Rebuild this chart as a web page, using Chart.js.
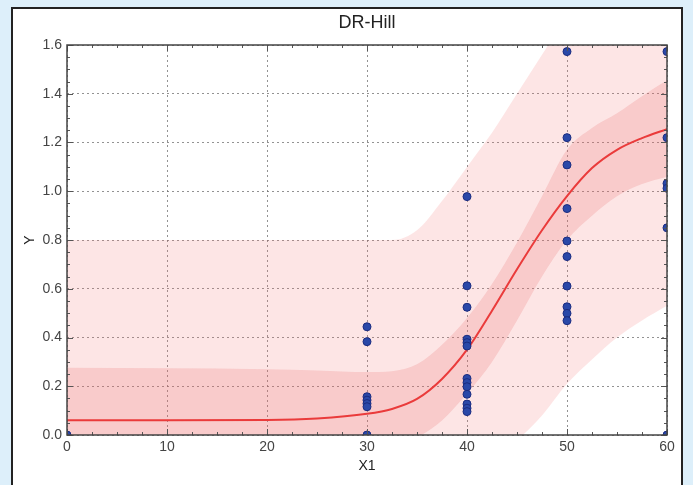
<!DOCTYPE html>
<html>
<head>
<meta charset="utf-8">
<script src="https://cdn.jsdelivr.net/npm/chart.js@4.4.1/dist/chart.umd.min.js"></script>
<style>
  html, body { margin:0; padding:0; background:#ddeffa; width:693px; height:485px; overflow:hidden; }
  #panel { position:absolute; left:11px; top:7px; width:672px; height:500px; background:#fff; border:2px solid #222; box-sizing:border-box; }
  #wrap { position:absolute; left:0; top:0; width:693px; height:485px; }
</style>
</head>
<body>
<div id="panel"></div>
<div id="wrap"><canvas id="c" width="693" height="485"></canvas></div>
<script>
// ---- data ----
const titleText = 'DR-Hill';
const xTitle = 'X1';
const yTitle = 'Y';

// observed points
const ptX = [0,
  30,30,30,30,30,30,30,
  40,40,40,40,40,40,40,40,40,40,40,40,40,
  50,50,50,50,50,50,50,50,50,50,
  60,60,60,60,60,60];
const ptY = [0.0,
  0.444,0.383,0.157,0.143,0.129,0.116,0.0,
  0.978,0.612,0.524,0.393,0.379,0.365,0.232,0.215,0.198,0.167,0.127,0.110,0.096,
  1.573,1.220,1.108,0.929,0.796,0.732,0.611,0.526,0.499,0.469,
  1.573,1.220,1.032,1.012,0.850,0.0];

// fitted curve and bands sampled along X1
const bandX      = [0,10,20,25,30,32.5,35,37.5,40,42.5,45,47.5,50,52.5,55,57.5,60];
const fitY       = [0.061,0.061,0.062,0.068,0.087,0.107,0.148,0.23,0.35,0.51,0.68,0.84,0.98,1.095,1.17,1.218,1.255];
const innerUpper = [0.276,0.274,0.270,0.265,0.258,0.262,0.29,0.37,0.48,0.62,0.79,0.98,1.17,1.26,1.32,1.39,1.455];
const innerLower = [-0.15,-0.15,-0.15,-0.13,-0.09,-0.05,-0.01,0.06,0.17,0.30,0.47,0.65,0.80,0.90,0.98,1.03,1.06];
const outerUpper = [0.80,0.80,0.80,0.80,0.80,0.80,0.84,0.96,1.10,1.24,1.40,1.56,1.72,1.86,1.98,2.08,2.15];
const outerLower = [-0.68,-0.68,-0.68,-0.66,-0.62,-0.55,-0.45,-0.33,-0.20,-0.08,-0.02,0.08,0.21,0.31,0.40,0.47,0.53];

const xTicks = [0,10,20,30,40,50,60];
const yTicks = [0.0,0.2,0.4,0.6,0.8,1.0,1.2,1.4,1.6];

const pairs = (xs, ys) => xs.map((x,i) => ({x, y: ys[i]}));

Chart.defaults.font.family = 'Arial, "Liberation Sans", Helvetica, sans-serif';

const frame = {
  id: 'frame',
  afterDatasetsDraw(chart) {
    const {ctx, chartArea: a, scales: {x, y}} = chart;
    ctx.save();
    ctx.strokeStyle = '#555';
    ctx.lineWidth = 1;
    ctx.beginPath();
    for (let i = 0; i <= 24; i++) {
      const v = i * 2.5;
      const px = Math.round(x.getPixelForValue(v)) + 0.5;
      const L = (i % 4 === 0) ? 6 : 3;
      ctx.moveTo(px, a.bottom); ctx.lineTo(px, a.bottom - L);
      ctx.moveTo(px, a.top); ctx.lineTo(px, a.top + L);
    }
    for (let i = 0; i <= 32; i++) {
      const v = i * 0.05;
      const py = Math.round(y.getPixelForValue(v)) + 0.5;
      const L = (i % 4 === 0) ? 6 : 3;
      ctx.moveTo(a.left, py); ctx.lineTo(a.left + L, py);
      ctx.moveTo(a.right, py); ctx.lineTo(a.right - L, py);
    }
    ctx.stroke();
    ctx.strokeStyle = '#444';
    ctx.lineWidth = 1.5;
    ctx.strokeRect(a.left, a.top, a.right - a.left, a.bottom - a.top);
    ctx.restore();
  }
};

new Chart(document.getElementById('c'), {
  type: 'scatter',
  data: {
    datasets: [
      { label: 'data', data: pairs(ptX, ptY), order: 0, clip: 0,
        pointRadius: 4, pointHoverRadius: 4, backgroundColor: '#2a48a8', borderColor: '#1b2c80', borderWidth: 1 },
      { label: 'fit', data: pairs(bandX, fitY), order: 1, showLine: true, pointRadius: 0,
        borderColor: '#ea3b3b', borderWidth: 2, cubicInterpolationMode: 'monotone', fill: false, clip: 0 },
      { label: 'inner upper', data: pairs(bandX, innerUpper), order: 2, showLine: true, pointRadius: 0,
        borderWidth: 0, borderColor: 'rgba(0,0,0,0)', backgroundColor: 'rgba(232,95,95,0.2)',
        cubicInterpolationMode: 'monotone', fill: '+1', clip: 0 },
      { label: 'inner lower', data: pairs(bandX, innerLower), order: 2, showLine: true, pointRadius: 0,
        borderWidth: 0, borderColor: 'rgba(0,0,0,0)', cubicInterpolationMode: 'monotone', fill: false, clip: 0 },
      { label: 'outer upper', data: pairs(bandX, outerUpper), order: 3, showLine: true, pointRadius: 0,
        borderWidth: 0, borderColor: 'rgba(0,0,0,0)', backgroundColor: 'rgba(245,110,110,0.18)',
        cubicInterpolationMode: 'monotone', fill: '+1', clip: 0 },
      { label: 'outer lower', data: pairs(bandX, outerLower), order: 3, showLine: true, pointRadius: 0,
        borderWidth: 0, borderColor: 'rgba(0,0,0,0)', cubicInterpolationMode: 'monotone', fill: false, clip: 0 }
    ]
  },
  options: {
    responsive: false,
    animation: false,
    events: [],
    layout: { padding: { left: 0, right: 26, top: 0, bottom: 0 } },
    plugins: {
      legend: { display: false },
      tooltip: { enabled: false },
      title: { display: true, text: titleText, fullSize: false, color: '#222',
               font: { size: 18, weight: 'normal' }, padding: { top: 12, bottom: 11.4 } }
    },
    scales: {
      x: {
        type: 'linear', min: 0, max: 60,
        afterBuildTicks: s => { s.ticks = xTicks.map(v => ({value: v})); },
        afterFit: s => { s.height = 50; },
        ticks: { color: '#444', font: { size: 14 }, padding: 4, maxRotation: 0 },
        grid: { drawTicks: false, color: 'rgba(110,110,110,0.75)', lineWidth: 1 },
        border: { display: false, dash: [2, 3] },
        title: { display: true, text: xTitle, color: '#222', font: { size: 14 }, padding: { top: 0, bottom: 10.6 } }
      },
      y: {
        type: 'linear', min: 0, max: 1.6,
        afterBuildTicks: s => { s.ticks = yTicks.map(v => ({value: v})); },
        afterFit: s => { s.width = 67; },
        ticks: { color: '#444', font: { size: 14 }, padding: 5, callback: v => Number(v).toFixed(1) },
        grid: { drawTicks: false, color: 'rgba(110,110,110,0.75)', lineWidth: 1 },
        border: { display: false, dash: [2, 3] },
        title: { display: true, text: yTitle, color: '#222', font: { size: 14 }, padding: { top: 21.6, bottom: 0 } }
      }
    }
  },
  plugins: [frame]
});
</script>
</body>
</html>
